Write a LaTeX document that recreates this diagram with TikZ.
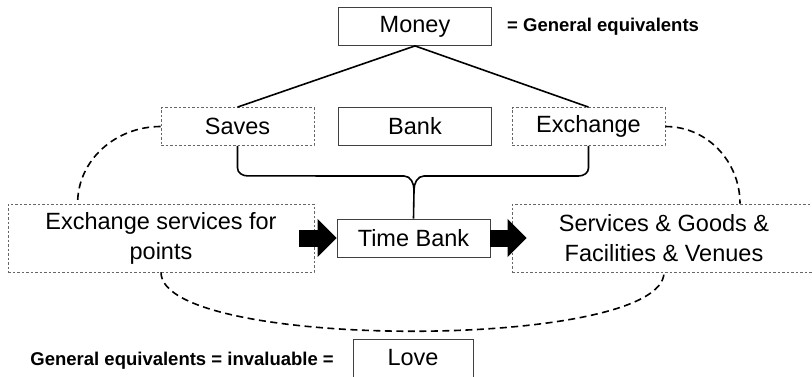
\documentclass[tikz,border=0pt]{standalone}
\usepackage{fontspec}
\setmainfont{Liberation Sans}
\usetikzlibrary{arrows.meta,positioning}

\begin{document}
\begin{tikzpicture}[x=1pt, y=1pt,
		solidbox/.style={draw=black!75, line width=0.8pt, minimum width=153pt, minimum height=38pt, inner sep=2pt, font=\fontsize{23.5}{30}\selectfont},
		dotbox/.style={solidbox, draw=black!60, dash pattern=on 2.5pt off 2pt},
		note/.style={font=\fontsize{18.5}{22}\selectfont\bfseries, inner sep=0pt},
		link/.style={line width=1.6pt},
		loop/.style={line width=1.6pt, dash pattern=on 7pt off 4.5pt},
		block/.style={line width=17pt, -{Triangle[length=19pt, width=37pt]}}]
		\useasboundingbox (0,0) rectangle (812,-376);
		\begin{scope}[every node/.style={solidbox}]
			\node (money) at (415,-26.5) {Money};
			\node (bank) at (415,-126.5) {Bank};
			\node (tb) at (413.5,-238) {Time Bank};
			\node[minimum width=120pt] (love) at (413,-358) {Love};
		\end{scope}
		\begin{scope}[every node/.style={dotbox}]
			\node (saves) at (237.5,-126.5) {Saves};
			\node (exch) at (588.5,-126.5) {Exchange};
			\node[minimum width=306pt, minimum height=68pt, align=center] (points) at (161,-238) {Exchange services for\\points};
			\node[minimum width=304pt, minimum height=68pt, align=center] (goods) at (664,-238) {Services \& Goods \&\\Facilities \& Venues};
		\end{scope}
		\node[note, anchor=west] (eqtop) at (507,-27) {= General equivalents};
		\node[note, anchor=east] (eqbot) at (334,-361) {General equivalents = invaluable =};
		\draw[link] (money.south) -- (saves.north);
		\draw[link] (money.south) -- (exch.north);
		\coordinate (tip) at (414,-190);
		\draw[link] (saves.south) -- ++(0,-22) to[out=-90,in=180] ++(10,-8) -- (404,-176)
			to[out=0,in=90] (tip) to[out=90,in=180] (424,-176) -- (578.5,-176)
			to[out=0,in=-90] (588.5,-168) -- (exch.south);
		\draw[link] (tip) -- (tb.north);
		\draw[block] ([xshift=-15pt]points.east) -- (tb.west);
		\draw[block] (tb.east) -- ([xshift=15pt]goods.west);
		\draw[loop] (saves.west) to[out=180,in=90] ([xshift=70pt]points.north west);
		\draw[loop] (exch.east) to[out=0,in=90] ([xshift=76pt]goods.north);
		\draw[loop] (points.south) to[out=-90,in=-90,looseness=0.4] (goods.south);
	\end{tikzpicture}
\end{document}
